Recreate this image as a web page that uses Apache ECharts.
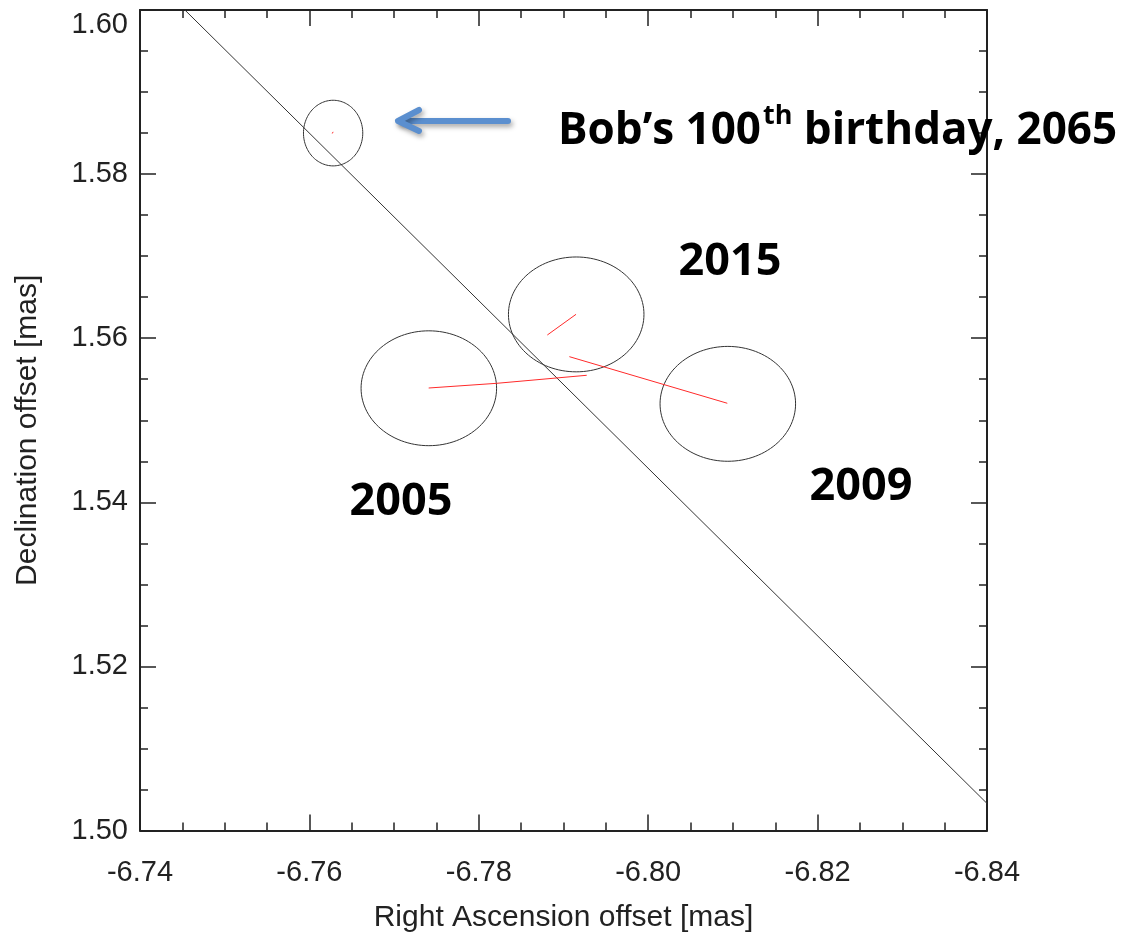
<!DOCTYPE html>
<html><head><meta charset="utf-8">
<script src="https://cdn.jsdelivr.net/npm/echarts@6/dist/echarts.min.js"></script>
<style>html,body{margin:0;padding:0;background:#fff}#main{width:1122px;height:936px}</style>
</head><body><div id="main"></div>
<script>
// Axis ranges (x is inverted: -6.74 on the left, -6.84 on the right)
const xRange = [-6.84, -6.74];
const yRange = [1.50, 1.60];
const majorStep = 0.02;
const xTickLabels = ['-6.84', '-6.82', '-6.80', '-6.78', '-6.76', '-6.74'];
const yTickLabels = ['1.50', '1.52', '1.54', '1.56', '1.58', '1.60'];

// Error ellipses (centre and semi-axes, mas)
const epochs = ['2005', '2009', '2015', '2065'];
const ellipseX = [-6.7741, -6.8094, -6.7915, -6.7628];
const ellipseY = [1.5539, 1.5520, 1.5629, 1.5850];
const ellipseRx = [0.0080, 0.0080, 0.0080, 0.0035];
const ellipseRy = [0.0070, 0.0070, 0.0070, 0.0040];

// Red motion tracks
const track2005 = [[-6.77408, 1.55393], [-6.78211, 1.55450], [-6.79274, 1.55548]];
const track2009 = [[-6.79069, 1.55775], [-6.80934, 1.55207]];
const track2015 = [[-6.78809, 1.56039], [-6.79148, 1.56291]];
const track2065 = [[-6.76270, 1.58495], [-6.76280, 1.58515]];

// Black reference line
const refLine = [[-6.7453, 1.60], [-6.84, 1.5033]];

const chart = echarts.init(document.getElementById('main'));
const axisCol = '#222';
const tickFont = {fontFamily: 'Liberation Sans, Arial, sans-serif', fontSize: 29, color: '#222'};
function fmt(list) { return v => { const s = v.toFixed(2); return list.includes(s) ? s : s; }; }
function xAx(pos, show) {
  return {
    type: 'value', position: pos, min: xRange[0], max: xRange[1], interval: majorStep, inverse: true,
    axisLine: {show: true, onZero: false, lineStyle: {color: axisCol, width: 2}},
    axisTick: {show: true, inside: true, length: 16, lineStyle: {color: axisCol, width: 1.5}},
    minorTick: {show: true, splitNumber: 4, length: 8, lineStyle: {color: axisCol, width: 1.5}},
    splitLine: {show: false},
    axisLabel: Object.assign({show: show, margin: 28, formatter: fmt(xTickLabels)}, tickFont),
    name: show ? 'Right Ascension offset [mas]' : '', nameLocation: 'middle', nameGap: 72,
    nameTextStyle: {fontFamily: 'Liberation Sans, Arial, sans-serif', fontSize: 30, color: '#222'}
  };
}
function yAx(pos, show) {
  return {
    type: 'value', position: pos, min: yRange[0], max: yRange[1], interval: majorStep,
    axisLine: {show: true, onZero: false, lineStyle: {color: axisCol, width: 2}},
    axisTick: {show: true, inside: true, length: 16, lineStyle: {color: axisCol, width: 1.5}},
    minorTick: {show: true, splitNumber: 4, length: 8, lineStyle: {color: axisCol, width: 1.5}},
    splitLine: {show: false},
    axisLabel: Object.assign({show: show, margin: 12, formatter: fmt(yTickLabels), verticalAlignMaxLabel: 'top'}, tickFont),
    name: show ? 'Declination offset [mas]' : '', nameLocation: 'middle', nameGap: 97,
    nameTextStyle: {fontFamily: 'Liberation Sans, Arial, sans-serif', fontSize: 30, color: '#222', padding: [0, 20, 0, 0]}
  };
}
const redStyle = {color: '#ff2a2a', width: 1};
function track(d) {
  return {type: 'line', data: d, symbol: 'none', lineStyle: redStyle, itemStyle: {color: '#ff2a2a'}, silent: true, z: 3};
}
const bold = {fontFamily: 'Open Sans', fontWeight: 'bold', color: '#000'};
const labelStyle = (t, x, y) => ({
  type: 'text', z: 100,
  style: {text: t, x: x, y: y, fill: '#000', font: 'bold 45px "Open Sans"', align: 'center', verticalAlign: 'middle',
          textAlign: 'center', textVerticalAlign: 'middle'}
});
chart.setOption({
  animation: false,
  grid: {left: 140, top: 10, width: 847, height: 820.5, containLabel: false, outerBoundsMode: 'none'},
  xAxis: [xAx('bottom', true), xAx('top', false)],
  yAxis: [yAx('left', true), yAx('right', false)],
  series: [
    {type: 'line', data: refLine, symbol: 'none', lineStyle: {color: '#333', width: 1}, silent: true, z: 2},
    {
      type: 'custom', silent: true, z: 2,
      data: ellipseX.map((x, i) => [x, ellipseY[i], ellipseRx[i], ellipseRy[i]]),
      renderItem: function (params, api) {
        const cx = api.value(0), cy = api.value(1), rx = api.value(2), ry = api.value(3);
        const pts = [];
        for (let k = 0; k <= 120; k++) {
          const t = k / 120 * 2 * Math.PI;
          pts.push(api.coord([cx + rx * Math.cos(t), cy + ry * Math.sin(t)]));
        }
        return {type: 'polyline', shape: {points: pts}, style: {fill: 'none', stroke: '#333', lineWidth: 1}};
      }
    },
    track(track2005), track(track2009), track(track2015), track(track2065)
  ],
  graphic: [
    {type: 'line', z: 100, shape: {x1: 508, y1: 121, x2: 400, y2: 121},
     style: {stroke: '#5b8fcf', lineWidth: 6, lineCap: 'round', shadowBlur: 5, shadowOffsetX: 2, shadowOffsetY: 3, shadowColor: 'rgba(0,0,0,0.35)'}},
    {type: 'polyline', z: 100, shape: {points: [[419, 110], [398, 121], [419, 131]]},
     style: {stroke: '#5b8fcf', fill: null, lineWidth: 6, lineCap: 'round', lineJoin: 'round', shadowBlur: 5, shadowOffsetX: 2, shadowOffsetY: 3, shadowColor: 'rgba(0,0,0,0.35)'}},
    {type: 'text', z: 100,
     style: {text: '{m|Bob\u2019s 100}{s|th}{m| birthday, 2065}', x: 558, y: 128, align: 'left', verticalAlign: 'middle',
             textAlign: 'left', textVerticalAlign: 'middle',
             rich: {m: Object.assign({fontSize: 44, lineHeight: 50, verticalAlign: 'bottom'}, bold),
                    s: Object.assign({fontSize: 27, lineHeight: 28, verticalAlign: 'top', padding: [0, 0, 0, 2]}, bold)}}},
    labelStyle(epochs[2], 730, 262),
    labelStyle(epochs[0], 401, 502),
    labelStyle(epochs[1], 861, 487)
  ]
});
</script></body></html>
